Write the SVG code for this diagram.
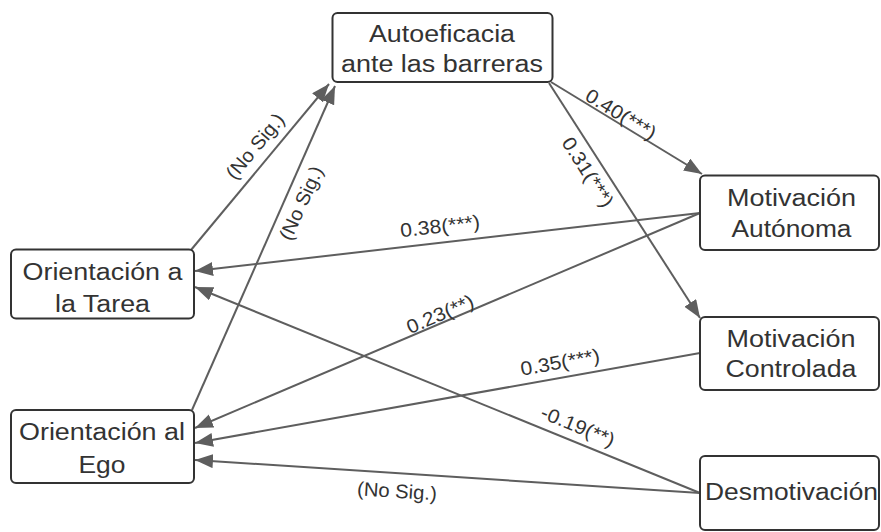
<svg xmlns="http://www.w3.org/2000/svg" width="881" height="532" viewBox="0 0 881 532">
  <style>
    .box { fill: #ffffff; stroke: #333333; stroke-width: 2; }
    .node-text { font-family: "Liberation Sans", Arial, sans-serif; font-size: 23.5px; fill: #333333; text-anchor: middle; }
    .edge { fill: none; stroke: #5e5e5e; stroke-width: 2; marker-end: url(#arrow); }
    .label { font-family: "Liberation Sans", Arial, sans-serif; font-size: 19.5px; fill: #333333; text-anchor: middle; }
  </style>
  <defs>
    <marker id="arrow" markerUnits="userSpaceOnUse" markerWidth="19" markerHeight="15" refX="18" refY="7" orient="auto">
      <path d="M0,0 L18,7 L0,14 Z" fill="#5e5e5e"/>
    </marker>
  </defs>
  <rect width="881" height="532" fill="#ffffff"/>

  <!-- connectors -->
  <g id="connectors">
    <line class="edge" x1="191" y1="250" x2="329" y2="84"/>
    <line class="edge" x1="192" y1="410" x2="335" y2="86"/>
    <line class="edge" x1="551" y1="82" x2="702" y2="174"/>
    <line class="edge" x1="549" y1="83" x2="700" y2="318"/>
    <line class="edge" x1="700" y1="213" x2="195" y2="271"/>
    <line class="edge" x1="700" y1="213" x2="195" y2="428"/>
    <line class="edge" x1="700" y1="353" x2="195" y2="443"/>
    <line class="edge" x1="700" y1="493" x2="195" y2="287"/>
    <line class="edge" x1="700" y1="493" x2="195" y2="460"/>

    <text class="label" transform="translate(255,146) rotate(-50)" dy="0.35em" textLength="79" lengthAdjust="spacingAndGlyphs">(No Sig.)</text>
    <text class="label" transform="translate(301,203) rotate(-65.5)" dy="0.35em" textLength="79" lengthAdjust="spacingAndGlyphs">(No Sig.)</text>
    <text class="label" transform="translate(621,114) rotate(31.4)" dy="0.35em" textLength="79" lengthAdjust="spacingAndGlyphs">0.40(***)</text>
    <text class="label" transform="translate(588,172) rotate(57.4)" dy="0.35em" textLength="79" lengthAdjust="spacingAndGlyphs">0.31(***)</text>
    <text class="label" transform="translate(440,226) rotate(-6.5)" dy="0.35em" textLength="80" lengthAdjust="spacingAndGlyphs">0.38(***)</text>
    <text class="label" transform="translate(440,314) rotate(-23.1)" dy="0.35em" textLength="71" lengthAdjust="spacingAndGlyphs">0.23(**)</text>
    <text class="label" transform="translate(560,362) rotate(-10.1)" dy="0.35em" textLength="80" lengthAdjust="spacingAndGlyphs">0.35(***)</text>
    <text class="label" transform="translate(578,426) rotate(22.2)" dy="0.35em" textLength="78" lengthAdjust="spacingAndGlyphs">-0.19(**)</text>
    <text class="label" transform="translate(397,491) rotate(3.7)" dy="0.35em" textLength="80" lengthAdjust="spacingAndGlyphs">(No Sig.)</text>
  </g>

  <!-- nodes -->
  <g id="autoeficacia">
    <rect class="box" x="332.5" y="13" width="220" height="69" rx="5"/>
    <text class="node-text" x="442" y="42" textLength="146" lengthAdjust="spacingAndGlyphs">Autoeficacia</text>
    <text class="node-text" x="442" y="72" textLength="202" lengthAdjust="spacingAndGlyphs">ante las barreras</text>
  </g>
  <g id="orientacion-tarea">
    <rect class="box" x="11" y="249.5" width="183" height="69" rx="5"/>
    <text class="node-text" x="102.5" y="280" textLength="160" lengthAdjust="spacingAndGlyphs">Orientación a</text>
    <text class="node-text" x="102.5" y="311.5" textLength="95" lengthAdjust="spacingAndGlyphs">la Tarea</text>
  </g>
  <g id="orientacion-ego">
    <rect class="box" x="11" y="410" width="183" height="73" rx="5"/>
    <text class="node-text" x="102" y="440" textLength="166" lengthAdjust="spacingAndGlyphs">Orientación al</text>
    <text class="node-text" x="102" y="472.5" textLength="47" lengthAdjust="spacingAndGlyphs">Ego</text>
  </g>
  <g id="motivacion-autonoma">
    <rect class="box" x="700" y="175.5" width="179" height="74.5" rx="5"/>
    <text class="node-text" x="791.5" y="206" textLength="129" lengthAdjust="spacingAndGlyphs">Motivación</text>
    <text class="node-text" x="791.5" y="236.5" textLength="120" lengthAdjust="spacingAndGlyphs">Autónoma</text>
  </g>
  <g id="motivacion-controlada">
    <rect class="box" x="700" y="317" width="179" height="73" rx="5"/>
    <text class="node-text" x="791" y="346.5" textLength="129" lengthAdjust="spacingAndGlyphs">Motivación</text>
    <text class="node-text" x="791" y="376.5" textLength="131" lengthAdjust="spacingAndGlyphs">Controlada</text>
  </g>
  <g id="desmotivacion">
    <rect class="box" x="700" y="456" width="179" height="74" rx="5"/>
    <text class="node-text" x="791.5" y="500" textLength="173" lengthAdjust="spacingAndGlyphs">Desmotivación</text>
  </g>
</svg>
